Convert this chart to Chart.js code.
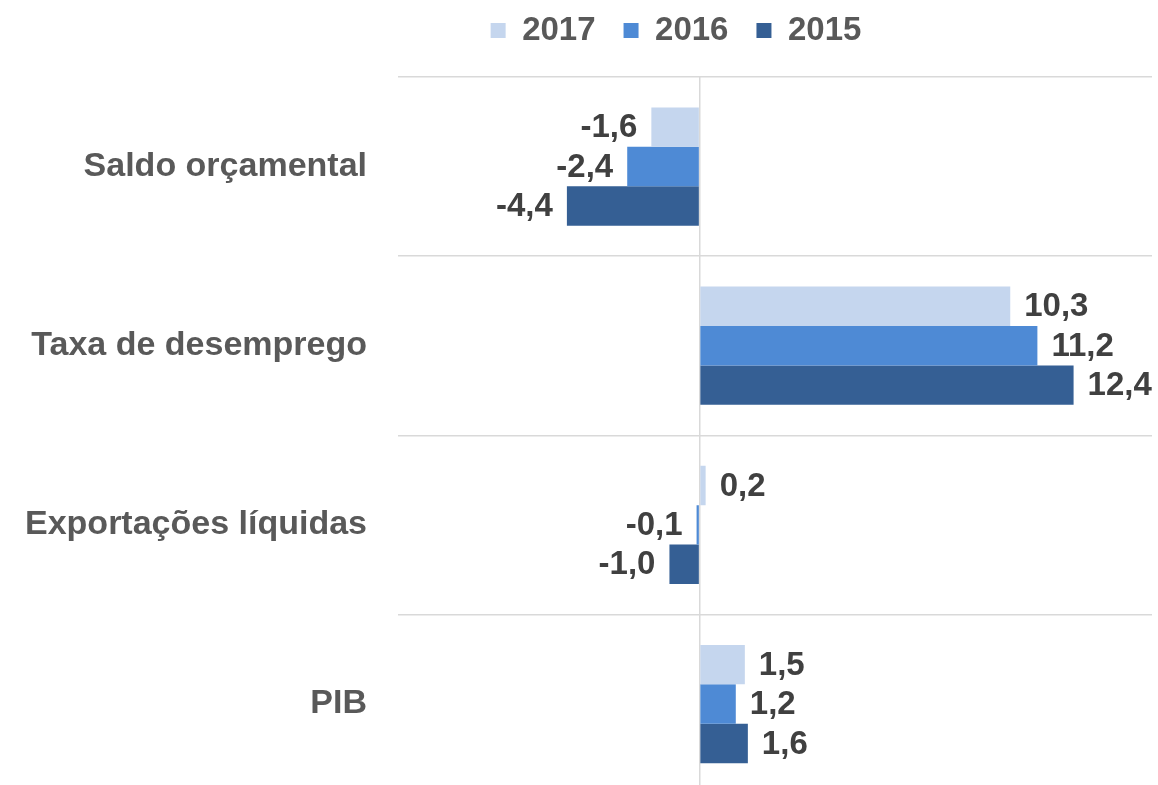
<!DOCTYPE html>
<html>
<head>
<meta charset="utf-8">
<script src="https://cdn.jsdelivr.net/npm/chart.js@4"></script>
<style>
  html, body { margin: 0; padding: 0; background: #fff; overflow: hidden; }
  #wrap { width: 1158px; height: 845px; position: relative; }
</style>
</head>
<body>
<div id="wrap"><canvas id="chart"></canvas></div>
<script>
const categories = ['Saldo orçamental', 'Taxa de desemprego', 'Exportações líquidas', 'PIB'];
const values2017 = [-1.6, 10.3, 0.2, 1.5];
const values2016 = [-2.4, 11.2, -0.1, 1.2];
const values2015 = [-4.4, 12.4, -1.0, 1.6];

const fmt = v => v.toFixed(1).replace('.', ',');

// draws the value next to the end of each bar
const valueLabels = {
    id: 'valueLabels',
    afterDatasetsDraw(chart) {
        const ctx = chart.ctx;
        ctx.save();
        ctx.font = 'bold 33px "Liberation Sans", Arial, sans-serif';
        ctx.fillStyle = '#404040';
        ctx.textBaseline = 'middle';
        chart.data.datasets.forEach((ds, i) => {
            chart.getDatasetMeta(i).data.forEach((bar, j) => {
                const v = ds.data[j];
                if (v >= 0) {
                    ctx.textAlign = 'left';
                    ctx.fillText(fmt(v), bar.x + 14, bar.y + 1);
                } else {
                    ctx.textAlign = 'right';
                    ctx.fillText(fmt(v), bar.x - 14, bar.y + 1);
                }
            });
        });
        ctx.restore();
    }
};

// extra room below the legend, and legend centred over the plot side
const legendTweak = {
    id: 'legendTweak',
    beforeInit(chart) {
        const legend = chart.legend;
        const fit = legend.fit;
        legend.fit = function () {
            fit.call(this);
            this.height += 20;
        };
        const draw = legend.draw;
        legend.draw = function () {
            const ctx = this.ctx;
            ctx.save();
            ctx.translate(100, 0);
            draw.apply(this, arguments);
            ctx.restore();
        };
    }
};

new Chart(document.getElementById('chart'), {
    type: 'bar',
    data: {
        labels: categories,
        datasets: [
            { label: '2017', data: values2017, backgroundColor: '#c5d6ee' },
            { label: '2016', data: values2016, backgroundColor: '#4e8ad5' },
            { label: '2015', data: values2015, backgroundColor: '#355f94' }
        ]
    },
    options: {
        indexAxis: 'y',
        responsive: true,
        maintainAspectRatio: false,
        animation: false,
        categoryPercentage: 0.66,
        barPercentage: 1.0,
        layout: { padding: { top: -14, right: 6, bottom: 2, left: 0 } },
        plugins: {
            tooltip: { enabled: false },
            legend: {
                position: 'top',
                labels: {
                    boxWidth: 15,
                    boxHeight: 15,
                    padding: 28,
                    color: '#595959',
                    font: { family: '"Liberation Sans", Arial, sans-serif', size: 33, weight: 'bold' }
                }
            }
        },
        scales: {
            x: {
                min: -10,
                max: 15,
                ticks: { display: false },
                border: { display: false },
                grid: {
                    drawTicks: false,
                    lineWidth: 1.5,
                    color: c => c.tick && c.tick.value === 0 ? '#d9d9d9' : 'rgba(0,0,0,0)'
                }
            },
            y: {
                afterFit(scale) { scale.width = 398; },
                border: { display: false },
                grid: { drawTicks: false, color: '#d9d9d9', lineWidth: 1.5 },
                ticks: {
                    padding: 31,
                    color: '#595959',
                    font: { family: '"Liberation Sans", Arial, sans-serif', size: 34, weight: 'bold' }
                }
            }
        }
    },
    plugins: [valueLabels, legendTweak]
});
</script>
</body>
</html>
